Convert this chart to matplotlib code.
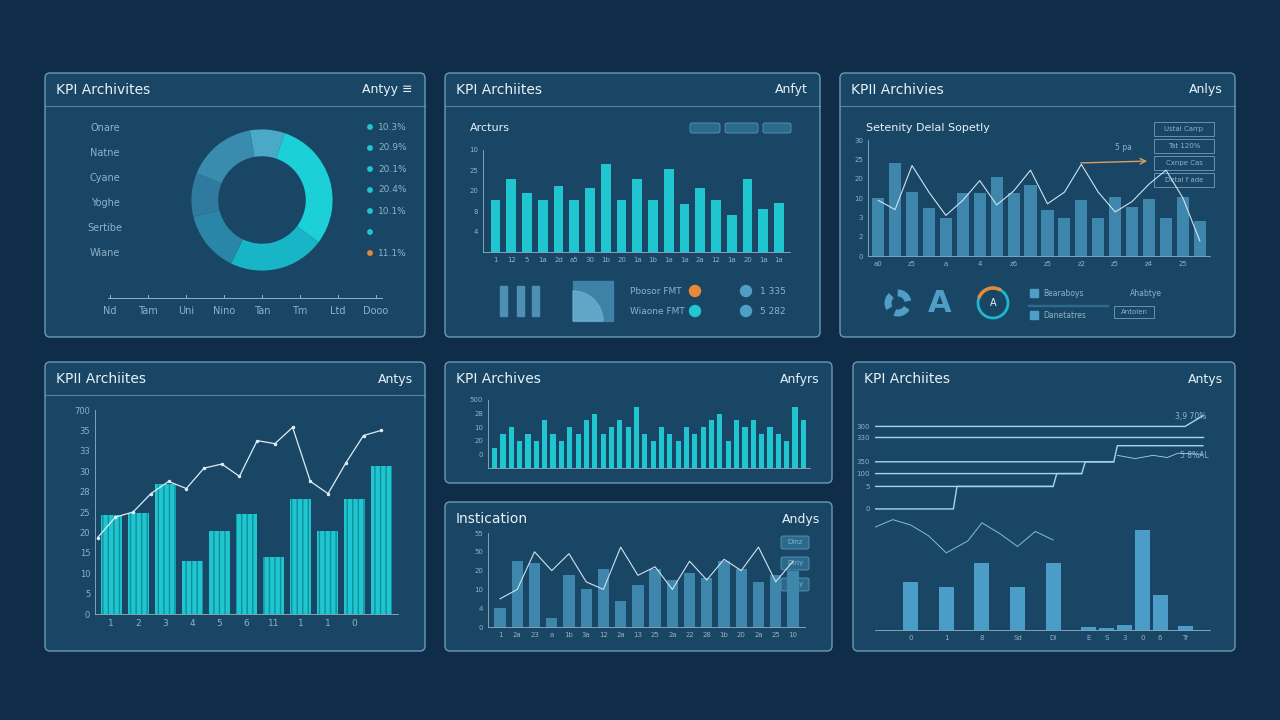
import matplotlib
matplotlib.use('Agg')
import matplotlib.pyplot as plt
from matplotlib.patches import FancyBboxPatch, Wedge, Circle, Rectangle

BG = '#0f2c48'
PANEL = '#1b4868'
EDGE = '#6f9fbd'
CYAN = '#1fc6cf'
MUTED = '#3f86ad'
TXT = '#e6f1f8'
DIM = '#8fb2c8'

# ---- data ----
donut_labels = ['Onare', 'Natne', 'Cyane', 'Yoghe', 'Sertibe', 'Wiane']
donut_values = [8, 30, 22, 14, 10, 16]
donut_pcts = ['10.3%', '20.9%', '20.1%', '20.4%', '10.1%', '', '11.1%']
donut_axis = ['Nd', 'Tam', 'Uni', 'Nino', 'Tan', 'Tm', 'Ltd', 'Dooo']

p2_vals = [5.1, 7.2, 5.8, 5.1, 6.5, 5.1, 6.3, 8.6, 5.1, 7.2, 5.1, 8.1, 4.7, 6.3, 5.1, 3.6, 7.2, 4.2, 4.8]
p2_ticks = ['1', '12', '5', '1a', '2d', 'a5', '30', '1b', '20', '1a', '1b', '1a', '1a', '2a', '12', '1a', '20', '1a', '1a']

p3_vals = [50, 80, 55, 41, 33, 54, 54, 68, 54, 61, 40, 33, 48, 33, 51, 42, 49, 33, 51, 30]
p3_line = [48, 40, 78, 55, 35, 48, 65, 44, 56, 74, 45, 55, 79, 55, 38, 47, 62, 74, 50, 13]

p4_vals = [97, 99, 127, 52, 81, 98, 56, 113, 81, 113, 145]
p4_ticks = ['1', '2', '3', '4', '5', '6', '11', '1', '1', '0', '']
p4_line = [75, 95, 100, 118, 130, 123, 143, 147, 135, 170, 167, 183, 130, 118, 148, 175, 180]

p5_vals = [3, 5, 6, 4, 5, 4, 7, 5, 4, 6, 5, 7, 8, 5, 6, 7, 6, 9, 5, 4, 6, 5, 4, 6, 5, 6, 7, 8, 4, 7, 6, 7, 5, 6, 5, 4, 9, 7]

p6_vals = [20, 70, 68, 10, 55, 40, 62, 28, 45, 62, 50, 57, 52, 70, 62, 48, 55, 60]
p6_line = [30, 40, 80, 60, 78, 48, 40, 85, 55, 64, 40, 70, 50, 72, 60, 85, 48, 70]

p7_vals = [45, 40, 63, 40, 63, 3, 2, 5, 93, 33, 4]
p7_xpos = [1, 2, 3, 4, 5, 6, 6.5, 7, 7.5, 8, 8.7]

fig = plt.figure(figsize=(12.8, 7.2), dpi=100)
fig.patch.set_facecolor(BG)
bg = fig.add_axes([0, 0, 1, 1])
bg.set_xlim(0, 1280)
bg.set_ylim(720, 0)
bg.axis('off')


def panel(x0, y0, x1, y1, title, right, line=True):
    bg.add_patch(FancyBboxPatch((x0, y0), x1 - x0, y1 - y0, boxstyle='round,pad=0,rounding_size=5',
                                fc=PANEL, ec=EDGE, lw=1.0, alpha=0.95))
    if line:
        bg.plot([x0, x1], [y0 + 33, y0 + 33], color=EDGE, lw=0.8, alpha=0.7)
    bg.text(x0 + 11, y0 + 17, title, color=TXT, fontsize=10, va='center')
    bg.text(x1 - 12, y0 + 17, right, color=TXT, fontsize=9, va='center', ha='right')


def box(x0, y0, x1, y1):
    ax = fig.add_axes([x0 / 1280, 1 - y1 / 720, (x1 - x0) / 1280, (y1 - y0) / 720])
    ax.set_facecolor('none')
    for s in ['top', 'right']:
        ax.spines[s].set_visible(False)
    for s in ['left', 'bottom']:
        ax.spines[s].set_color(DIM)
        ax.spines[s].set_linewidth(0.6)
    ax.tick_params(colors=DIM, labelsize=5, length=0)
    return ax


panel(45, 73, 425, 337, 'KPI Archivites', 'Antyy ≡')
panel(445, 73, 820, 337, 'KPI Archiites', 'Anfyt')
panel(840, 73, 1235, 337, 'KPII Archivies', 'Anlys')
panel(45, 362, 425, 651, 'KPII Archiites', 'Antys')
panel(445, 362, 832, 483, 'KPI Archives', 'Anfyrs', line=False)
panel(445, 502, 832, 651, 'Instication', 'Andys', line=False)
panel(853, 362, 1235, 651, 'KPI Archiites', 'Antys', line=False)

# panel 1 donut
ax = box(188, 128, 336, 272)
ax.axis('off')
cols = ['#4aa9c6', '#1bd0d6', '#18b5c6', '#2a86a6', '#2f7a9e', '#3a8cae']
ax.pie(donut_values, colors=cols, startangle=100, radius=1, counterclock=False,
       wedgeprops=dict(width=0.38, edgecolor='none'))
ax.set_xlim(-1.02, 1.02)
ax.set_ylim(-1.02, 1.02)
ax.set_aspect('equal')
for i, l in enumerate(donut_labels):
    bg.text(105, 128 + i * 25, l, color=DIM, fontsize=7, ha='center', va='center')
for i, p in enumerate(donut_pcts):
    y = 127 + i * 21
    c = '#e08a3c' if i == 6 else CYAN
    bg.add_patch(Circle((370, y), 2.2, color=c))
    bg.text(378, y, p, color=DIM, fontsize=6.5, va='center')
bg.plot([108, 382], [298, 298], color=DIM, lw=0.7)
for i, l in enumerate(donut_axis):
    x = 110 + i * 38
    bg.plot([x, x], [295, 298], color=DIM, lw=0.7)
    bg.text(x, 311, l, color=DIM, fontsize=7, ha='center', va='center')

# panel 2 bars
bg.text(470, 128, 'Arcturs', color=TXT, fontsize=8, va='center')
for i, (x, w) in enumerate([(690, 30), (725, 33), (763, 28)]):
    bg.add_patch(FancyBboxPatch((x, 123), w, 10, boxstyle='round,pad=0,rounding_size=2',
                                fc='#2a6a8c', ec=EDGE, lw=0.5))
ax = box(483, 150, 790, 252)
ax.bar(range(len(p2_vals)), p2_vals, color=CYAN, width=0.62)
ax.set_ylim(0, 10)
ax.set_yticks([0, 2, 4, 6, 8, 10])
ax.set_yticklabels(['', '4', '8', '20', '25', '10'])
ax.set_xticks(range(len(p2_ticks)))
ax.set_xticklabels(p2_ticks)
ax.set_xlim(-0.8, len(p2_vals) - 0.3)
for x in [500, 517, 532]:
    bg.add_patch(Rectangle((x, 286), 7, 30, color='#4f8fb3'))
bg.add_patch(Rectangle((573, 281), 40, 40, color='#3f82a8'))
bg.add_patch(Wedge((573, 321), 30, 270, 360, color='#6ab0cf', alpha=0.8))
bg.text(630, 291, 'Pbosor FMT', color=DIM, fontsize=6.5, va='center')
bg.text(630, 311, 'Wiaone FMT', color=DIM, fontsize=6.5, va='center')
bg.add_patch(Circle((695, 291), 5.5, color='#e8893a'))
bg.add_patch(Circle((695, 311), 5.5, color=CYAN))
bg.add_patch(Circle((746, 291), 5.5, color='#4f9ec6'))
bg.add_patch(Circle((746, 311), 5.5, color='#4f9ec6'))
bg.text(760, 291, '1 335', color=DIM, fontsize=6.5, va='center')
bg.text(760, 311, '5 282', color=DIM, fontsize=6.5, va='center')

# panel 3 bars + line
bg.text(866, 128, 'Setenity Delal Sopetly', color=TXT, fontsize=8, va='center')
ax = box(868, 140, 1210, 256)
ax.bar(range(len(p3_vals)), p3_vals, color=MUTED, width=0.72)
ax.plot(range(len(p3_line)), p3_line, color='#cfe3ee', lw=0.8)
ax.set_ylim(0, 100)
ax.set_yticks([0, 17, 33, 50, 67, 83, 100])
ax.set_yticklabels(['0', '2', '3', '10', '20', '25', '30'])
ax.set_xticks(range(0, 20, 2))
ax.set_xticklabels(['a0', 'z5', 'a', '4', 'z6', 'z5', 'z2', 'z5', 'z4', '25'])
ax.set_xlim(-0.6, 19.6)
for i, t in enumerate(['Ustal Carrp', 'Tat 120%', 'Cxnpe Cas', 'Detal f ade']):
    bg.add_patch(Rectangle((1154, 122 + i * 17), 60, 14, fc='none', ec=EDGE, lw=0.6))
    bg.text(1184, 129 + i * 17, t, color=DIM, fontsize=5, ha='center', va='center')
bg.annotate('', xy=(1150, 161), xytext=(1078, 163),
            arrowprops=dict(arrowstyle='->', color='#d9a060', lw=1))
bg.text(1115, 150, '5 pa', color=DIM, fontsize=5.5)
bg.add_patch(Circle((898, 303), 10, fc='none', ec='#4f9ec6', lw=5, ls=(0, (2, 1))))
bg.text(940, 303, 'A', color='#4f9ec6', fontsize=22, ha='center', va='center', fontweight='bold')
bg.add_patch(Circle((993, 303), 15, fc='none', ec='#1fb7d0', lw=2))
bg.add_patch(Wedge((993, 303), 16, 200, 300, width=2, color='#e8893a'))
bg.text(993, 303, 'A', color=TXT, fontsize=7, ha='center', va='center')
for i, t in enumerate(['Bearaboys', 'Danetatres']):
    bg.add_patch(Rectangle((1030, 289 + i * 22), 8, 8, color='#4f9ec6'))
    bg.text(1043, 293 + i * 22, t, color=DIM, fontsize=5.5, va='center')
bg.add_patch(Rectangle((1028, 305), 80, 1, color='#2f6a8c'))
bg.text(1130, 293, 'Ahabtye', color=DIM, fontsize=5.5, va='center')
bg.add_patch(Rectangle((1114, 306), 40, 12, fc='none', ec=EDGE, lw=0.6))
bg.text(1134, 312, 'Antolen', color=DIM, fontsize=5, ha='center', va='center')

# panel 4 bars + line
ax = box(95, 410, 398, 614)
ax.bar(range(len(p4_vals)), p4_vals, color=CYAN, width=0.78, hatch='|||', edgecolor='#0f8f9c', lw=0)
ax.plot([-0.5 + i * 0.655 for i in range(len(p4_line))], p4_line, color='#dcecf4', lw=0.9,
        marker='o', ms=1.5)
ax.set_ylim(0, 200)
ax.set_yticks(range(0, 201, 20))
ax.set_yticklabels(['0', '5', '10', '15', '20', '25', '28', '30', '33', '35', '700'])
ax.set_xticks(range(len(p4_ticks)))
ax.set_xticklabels(p4_ticks, fontsize=6.5)
ax.tick_params(axis='y', labelsize=6)
ax.set_xlim(-0.6, 10.6)

# panel 5 dense bars
ax = box(488, 400, 810, 468)
ax.bar(range(len(p5_vals)), p5_vals, color=CYAN, width=0.62)
ax.set_ylim(0, 10)
ax.set_yticks([0, 2, 4, 6, 8, 10])
ax.set_yticklabels(['', '0', '20', '10', '28', '500'])
ax.set_xticks([])
ax.set_xlim(-0.8, len(p5_vals) - 0.2)

# panel 6 bars + line
ax = box(488, 533, 805, 627)
ax.bar(range(len(p6_vals)), p6_vals, color=MUTED, width=0.66)
ax.plot(range(len(p6_line)), p6_line, color='#cfe3ee', lw=0.8)
ax.set_ylim(0, 100)
ax.set_yticks(range(0, 101, 20))
ax.set_yticklabels(['0', '4', '10', '20', '50', '55'])
ax.set_xticks(range(len(p6_vals)))
ax.set_xticklabels(['1', '2a', '23', 'a', '1b', '3a', '12', '2a', '13', '25', '2a', '22', '28', '1b', '20', '2a', '25', '10'])
ax.set_xlim(-0.7, len(p6_vals) - 0.3)
for i, t in enumerate(['Dinz', 'Diriy', 'Diriy']):
    bg.add_patch(FancyBboxPatch((781, 536 + i * 21), 28, 13, boxstyle='round,pad=0,rounding_size=2',
                                fc='#2a6a8c', ec=EDGE, lw=0.5))
    bg.text(795, 542 + i * 21, t, color=DIM, fontsize=5, ha='center', va='center')

# panel 7 steps + bars
ax = box(875, 405, 1210, 630)
ax.bar(p7_xpos, p7_vals, color='#4b9cc6', width=0.42)
steps = [([0, 8.7, 9.2, 9.2], [190, 190, 200, 200]),
         ([0, 9.2], [180, 180]),
         ([0, 6.7, 6.8, 9.2], [157, 157, 172, 172]),
         ([0, 5.8, 5.9, 6.7], [146, 146, 157, 157]),
         ([0, 5.0, 5.1, 5.8], [134, 134, 146, 146]),
         ([0, 2.2, 2.3, 5.0], [113, 113, 134, 134])]
for xs, ys in steps:
    ax.plot(xs, ys, color='#9fd8ea', lw=1)
ax.plot([6.8, 7.3, 7.8, 8.2, 8.5, 9.2], [163, 160, 163, 161, 165, 164], color='#9fd8ea', lw=0.6)
ax.plot([0, 0.5, 1, 1.5, 2, 2.6, 3, 3.5, 4, 4.5, 5], [96, 103, 98, 88, 72, 83, 100, 90, 78, 92, 84],
        color='#7fbfd6', lw=0.7)
ax.set_ylim(0, 210)
ax.set_yticks([0, 113, 134, 146, 157, 180, 190])
ax.set_yticklabels(['', '0', '5', '100', '350', '330', '300'])
ax.set_xticks(p7_xpos)
ax.set_xticklabels(['0', '1', '8', 'Sd', 'Di', 'E', 'S', '3', '0', '6', 'Tr'])
ax.set_xlim(0, 9.4)
ax.spines['left'].set_visible(False)
bg.text(1175, 419, '3,9 70%', color=DIM, fontsize=5.5)
bg.text(1180, 458, '5 8%AL', color=DIM, fontsize=5.5)

fig.savefig('out.png', dpi=100, facecolor=BG)
